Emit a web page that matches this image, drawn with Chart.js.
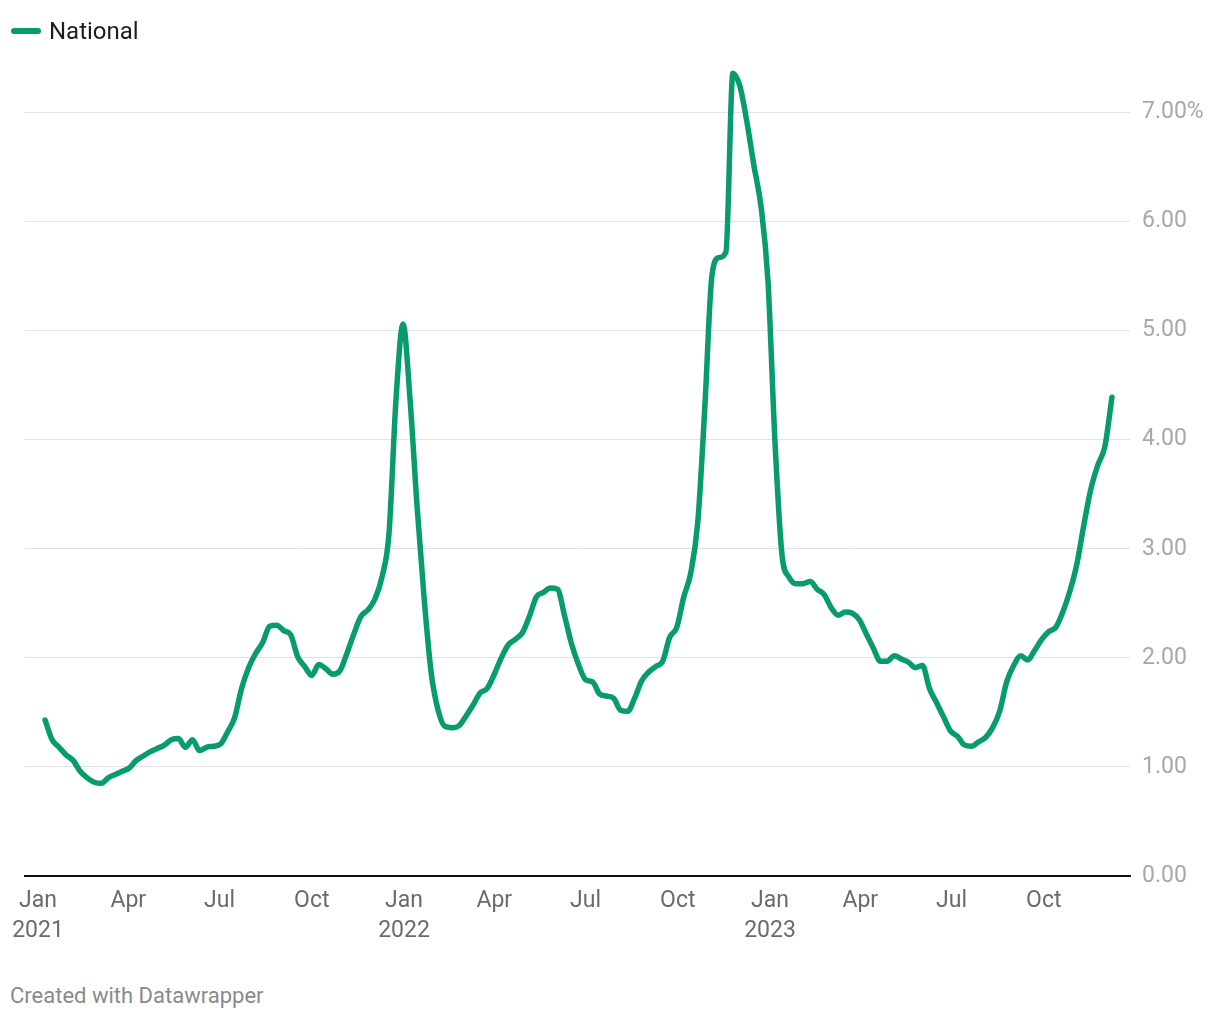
<!DOCTYPE html>
<html lang="en">
<head>
  <meta charset="UTF-8" />
  <title>National</title>
  <script src="https://cdn.jsdelivr.net/npm/chart.js"></script>
  <style>
    body { margin: 0; background: #fff; font-family: Roboto, sans-serif; }
    .wrap { position: relative; width: 1220px; height: 1020px; }
    .legend {
      position: absolute; left: 11px; top: 17px;
      display: flex; align-items: center;
      font-size: 24px; color: #1d1d1d;
    }
    .legend .swatch {
      width: 30px; height: 6px; border-radius: 3px;
      background: #079b6d; margin-right: 8px;
    }
    .chart-box { position: absolute; left: 0; top: 3px; }
    .credit {
      position: absolute; left: 10px; top: 983px;
      font-size: 22px; color: #8a8a8a;
    }
  </style>
</head>
<body>
  <div class="wrap">
    <div class="chart-box"><canvas id="chart" width="1220" height="960"></canvas></div>
    <div class="legend"><span class="swatch"></span>National</div>
    <div class="credit">Created with Datawrapper</div>
  </div>
  <script>
    // weekly values, first week ending 2021-01-08
    const startDate = '2021-01-08';
    const national = [
      1.43, 1.25, 1.18, 1.11, 1.06, 0.96, 0.90, 0.86, 0.85, 0.90,
      0.93, 0.96, 0.99, 1.06, 1.10, 1.14, 1.17, 1.20, 1.25, 1.26,
      1.18, 1.25, 1.15, 1.18, 1.19, 1.21, 1.32, 1.45, 1.72, 1.91,
      2.04, 2.14, 2.29, 2.30, 2.25, 2.21, 2.01, 1.92, 1.84, 1.94,
      1.90, 1.85, 1.88, 2.04, 2.22, 2.38, 2.44, 2.54, 2.74, 3.14,
      4.37, 5.06, 4.37, 3.39, 2.55, 1.87, 1.52, 1.37, 1.36, 1.38,
      1.47, 1.57, 1.68, 1.72, 1.85, 2.00, 2.12, 2.17, 2.23, 2.38,
      2.56, 2.60, 2.64, 2.63, 2.39, 2.13, 1.94, 1.80, 1.78, 1.67,
      1.65, 1.63, 1.52, 1.51, 1.63, 1.79, 1.87, 1.92, 1.97, 2.19,
      2.28, 2.56, 2.78, 3.25, 4.30, 5.50, 5.67, 5.72, 7.36, 7.24,
      6.91, 6.51, 6.14, 5.45, 3.97, 2.94, 2.74, 2.68, 2.68, 2.70,
      2.63, 2.58, 2.46, 2.39, 2.42, 2.41, 2.35, 2.22, 2.09, 1.97,
      1.97, 2.02, 1.99, 1.96, 1.91, 1.93, 1.72, 1.59, 1.46, 1.33,
      1.28, 1.20, 1.19, 1.23, 1.27, 1.36, 1.51, 1.78, 1.93, 2.02,
      1.98, 2.07, 2.17, 2.24, 2.28, 2.42, 2.61, 2.86, 3.22, 3.55,
      3.77, 3.94, 4.39
    ];

    const monthTicks = ['2021-01-01', '2021-04-01', '2021-07-01', '2021-10-01',
                        '2022-01-01', '2022-04-01', '2022-07-01', '2022-10-01',
                        '2023-01-01', '2023-04-01', '2023-07-01', '2023-10-01'];
    const monthLabels = [['Jan', '2021'], 'Apr', 'Jul', 'Oct',
                         ['Jan', '2022'], 'Apr', 'Jul', 'Oct',
                         ['Jan', '2023'], 'Apr', 'Jul', 'Oct'];
    const yTicks = [0, 1, 2, 3, 4, 5, 6, 7];
    const yLabels = ['0.00', '1.00', '2.00', '3.00', '4.00', '5.00', '6.00', '7.00%'];

    const DAY = 86400000;
    const origin = Date.parse('2021-01-01');
    const toDay = d => (Date.parse(d) - origin) / DAY;

    const start = toDay(startDate);
    const points = national.map((v, i) => ({ x: start + i * 7, y: v }));
    const tickDays = monthTicks.map(toDay);

    const green = '#079b6d';

    new Chart(document.getElementById('chart'), {
      type: 'line',
      data: {
        datasets: [{
          label: 'National',
          data: points,
          borderColor: green,
          borderWidth: 5.5,
          borderCapStyle: 'round',
          borderJoinStyle: 'round',
          pointRadius: 0,
          cubicInterpolationMode: 'monotone',
          fill: false
        }]
      },
      options: {
        responsive: false,
        animation: false,
        layout: { padding: { left: 25, top: 55, right: 0, bottom: 0 } },
        plugins: { legend: { display: false }, tooltip: { enabled: false } },
        scales: {
          x: {
            type: 'linear',
            min: -13,
            max: 1089,
            afterBuildTicks: s => { s.ticks = tickDays.map(v => ({ value: v })); },
            afterFit: s => { s.height = 87; },
            grid: { display: false, drawTicks: false },
            border: { display: true, color: '#111', width: 2 },
            ticks: {
              autoSkip: false,
              maxRotation: 0,
              padding: 10,
              color: '#6b6b6b',
              font: { family: 'Roboto', size: 23, lineHeight: 1.3 },
              callback: (v, i) => monthLabels[i]
            }
          },
          y: {
            position: 'right',
            min: 0,
            max: 7.5,
            afterBuildTicks: s => { s.ticks = yTicks.map(v => ({ value: v })); },
            afterFit: s => { s.width = 90; },
            grid: { color: '#e2e2e2', lineWidth: 1, drawTicks: false },
            border: { display: false },
            ticks: {
              padding: 12,
              color: '#a8a8a8',
              font: { family: 'Roboto', size: 23 },
              callback: (v, i) => yLabels[i]
            }
          }
        }
      }
    });
  </script>
</body>
</html>
